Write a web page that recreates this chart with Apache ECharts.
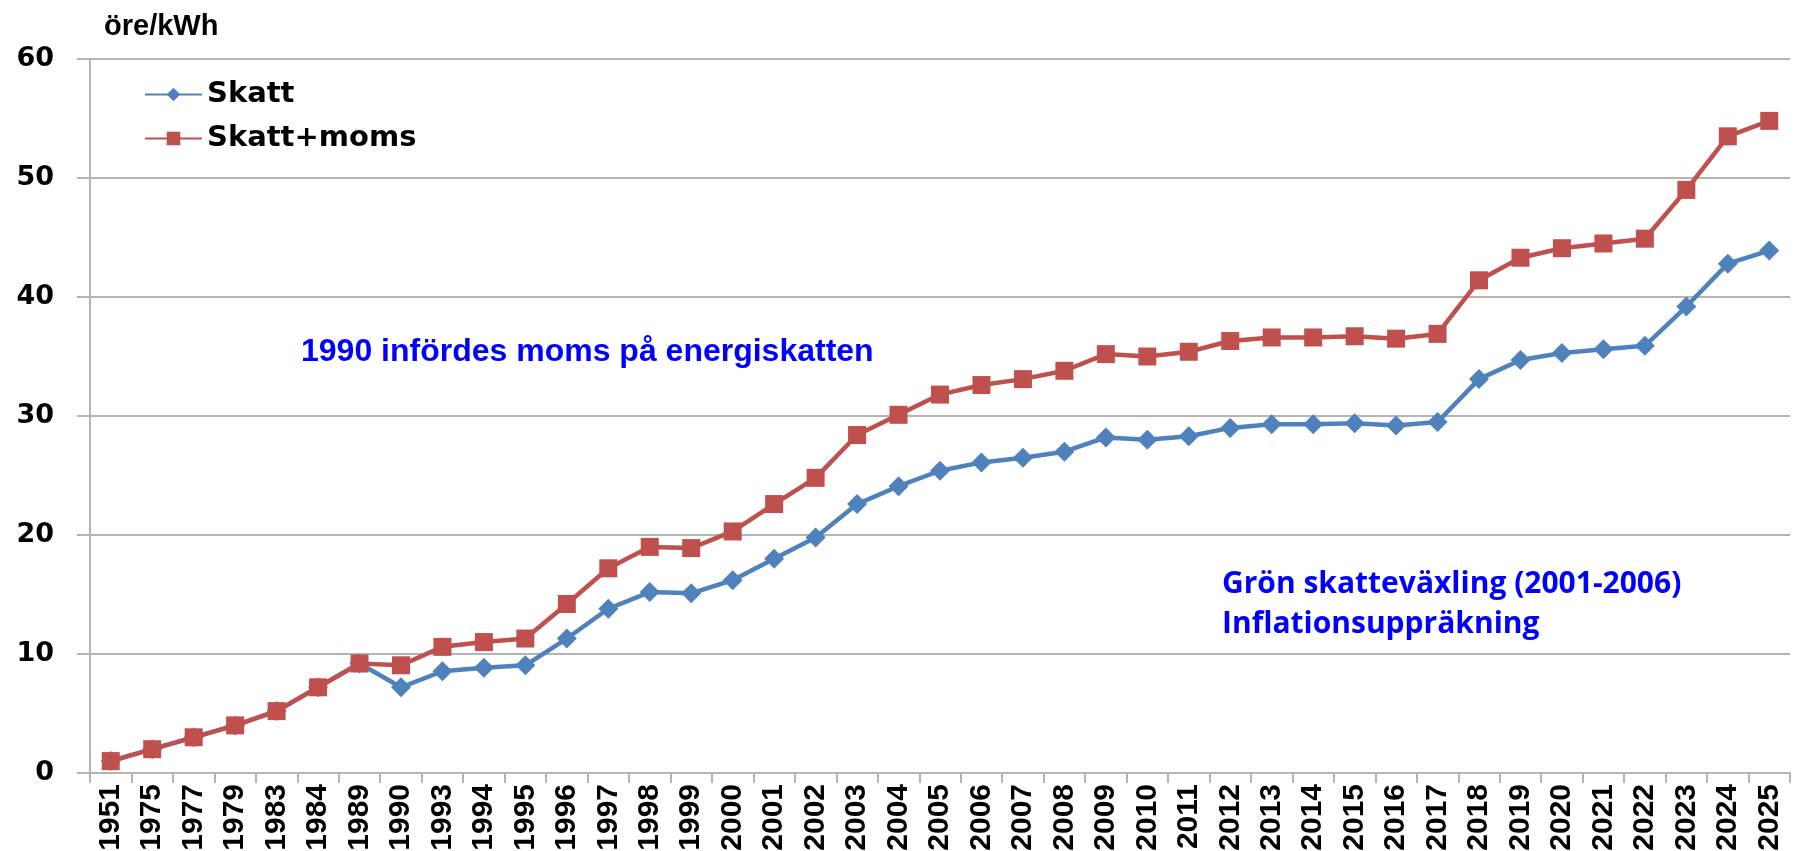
<!DOCTYPE html>
<html>
<head>
<meta charset="utf-8">
<script src="https://cdn.jsdelivr.net/npm/echarts@6/dist/echarts.min.js"></script>
<style>
  html, body { margin: 0; padding: 0; background: #fff; }
  #chart { width: 1801px; height: 851px; }
</style>
</head>
<body>
<div id="chart"></div>
<script>
// år (kategorier)
var years = ["1951", "1975", "1977", "1979", "1983", "1984", "1989", "1990", "1993", "1994",
  "1995", "1996", "1997", "1998", "1999", "2000", "2001", "2002", "2003", "2004",
  "2005", "2006", "2007", "2008", "2009", "2010", "2011", "2012", "2013", "2014",
  "2015", "2016", "2017", "2018", "2019", "2020", "2021", "2022", "2023", "2024", "2025"];

// öre/kWh
var skatt = [1.0, 2.0, 3.0, 4.0, 5.2, 7.2, 9.2, 7.2, 8.55, 8.85,
  9.05, 11.3, 13.8, 15.2, 15.1, 16.2, 18.0, 19.8, 22.6, 24.1,
  25.4, 26.1, 26.5, 27.0, 28.2, 28.0, 28.3, 29.0, 29.3, 29.3,
  29.4, 29.2, 29.5, 33.1, 34.7, 35.3, 35.6, 35.9, 39.2, 42.8, 43.9];

var skattMoms = [1.0, 2.0, 3.0, 4.0, 5.2, 7.2, 9.2, 9.05, 10.6, 11.0,
  11.3, 14.2, 17.2, 19.0, 18.9, 20.3, 22.6, 24.8, 28.4, 30.1,
  31.8, 32.6, 33.1, 33.8, 35.2, 35.0, 35.4, 36.3, 36.6, 36.6,
  36.7, 36.5, 36.9, 41.4, 43.3, 44.1, 44.5, 44.9, 49.0, 53.5, 54.8];

var yTicks = [0, 10, 20, 30, 40, 50, 60];

var blue = "#4f81bd";
var red = "#c0504d";
var gridGray = "#b4b4b4";

var chart = echarts.init(document.getElementById("chart"));
chart.setOption({
  animation: false,
  title: {
    text: "öre/kWh",
    left: 99,
    top: 7,
    textStyle: {
      fontFamily: "Liberation Sans, Arial",
      fontWeight: "bold",
      fontSize: 29,
      color: "#000"
    }
  },
  legend: {
    orient: "vertical",
    left: 139,
    top: 75,
    itemWidth: 57,
    itemHeight: 17,
    itemGap: 15,
    textStyle: {
      fontFamily: "DejaVu Sans",
      fontWeight: "bold",
      fontSize: 29,
      color: "#000"
    },
    data: ["Skatt", "Skatt+moms"]
  },
  grid: {
    left: 90,
    right: 11,
    top: 59,
    bottom: 78,
    containLabel: false,
    outerBoundsMode: "none"
  },
  xAxis: {
    type: "category",
    data: years,
    boundaryGap: true,
    axisLine: { lineStyle: { color: gridGray, width: 2 } },
    axisTick: { show: true, length: 10, lineStyle: { color: gridGray, width: 2 } },
    axisLabel: {
      rotate: 90,
      interval: 0,
      margin: 11,
      fontFamily: "Liberation Sans Narrow, Arial Narrow, Liberation Sans",
      fontWeight: "bold",
      fontSize: 30,
      color: "#000"
    }
  },
  yAxis: {
    type: "value",
    min: yTicks[0],
    max: yTicks[yTicks.length - 1],
    interval: 10,
    axisLine: { show: true, lineStyle: { color: gridGray, width: 2 } },
    axisTick: { show: true, length: 13, lineStyle: { color: gridGray, width: 2 } },
    splitLine: { lineStyle: { color: gridGray, width: 2 } },
    axisLabel: {
      margin: 36,
      fontFamily: "DejaVu Sans",
      fontWeight: "bold",
      fontSize: 27,
      color: "#000"
    }
  },
  graphic: [
    {
      type: "text",
      left: 301,
      top: 336,
      style: {
        text: "1990 infördes moms på energiskatten",
        fill: "#0000ff",
        font: "bold 32px 'Liberation Sans', Arial"
      }
    },
    {
      type: "text",
      left: 1222,
      top: 564,
      style: {
        text: "Grön skatteväxling (2001-2006)\nInflationsuppräkning",
        fill: "#0000ff",
        lineHeight: 40,
        font: "bold 30px 'Open Sans', 'Noto Sans', sans-serif"
      }
    }
  ],
  series: [
    {
      name: "Skatt",
      type: "line",
      data: skatt,
      symbol: "diamond",
      symbolSize: 20,
      z: 3,
      lineStyle: { color: blue, width: 4.5 },
      itemStyle: { color: blue }
    },
    {
      name: "Skatt+moms",
      type: "line",
      data: skattMoms,
      symbol: "rect",
      symbolSize: 18,
      z: 4,
      lineStyle: { color: red, width: 4.5 },
      itemStyle: { color: red }
    }
  ]
});
</script>
</body>
</html>
